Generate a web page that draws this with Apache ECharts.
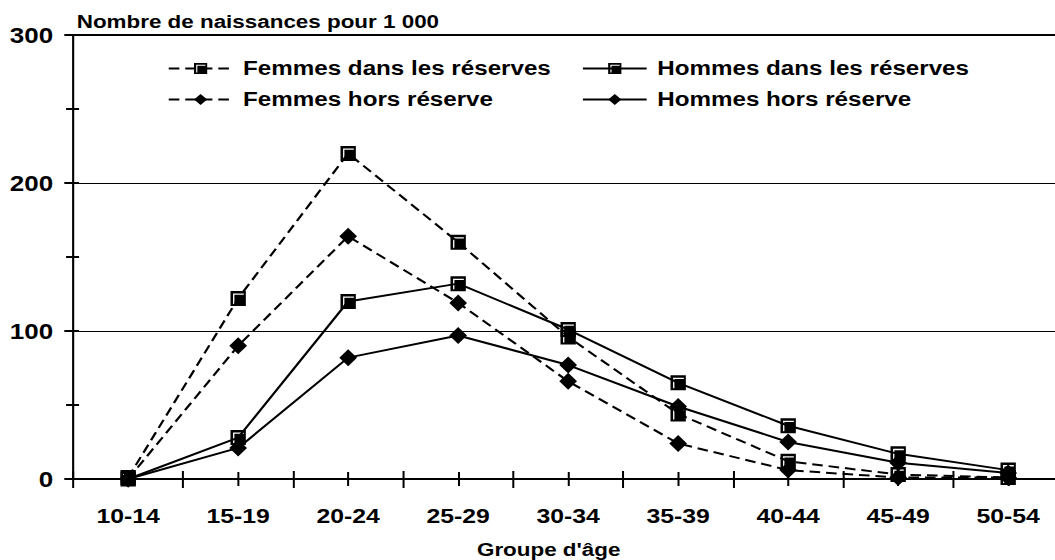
<!DOCTYPE html>
<html>
<head>
<meta charset="utf-8">
<script src="https://cdn.jsdelivr.net/npm/echarts@6/dist/echarts.min.js"></script>
<style>
  html, body { margin: 0; padding: 0; background: #fff; overflow: hidden; }
  /* le graphique d'origine est étiré horizontalement (~1.18) */
  #chart {
    width: 894px;
    height: 560px;
    transform: scaleX(1.18);
    transform-origin: left top;
  }
</style>
</head>
<body>
<div id="chart"></div>
<script>
// Données (naissances pour 1 000)
const ageGroups = ['10-14', '15-19', '20-24', '25-29', '30-34', '35-39', '40-44', '45-49', '50-54']
const femmesReserves = [1, 122, 220, 160, 96, 44, 12, 3, 1]
const hommesReserves = [0, 28, 120, 132, 101, 65, 36, 17, 6]
const femmesHors = [0, 90, 164, 119, 66, 24, 6, 1, 1]
const hommesHors = [0, 21, 82, 97, 77, 49, 25, 11, 4]
const yMax = 300
const yStep = 100

const fontFamily = '"Liberation Sans", Arial, sans-serif'
const black = '#000'

// carré noir avec un liseré blanc en haut et à gauche
const squareSymbol = 'path://M0 0H15V15H0Z M2.5 2.5V13H3.8V3.8H13V2.5Z'

const makeSeries = (name, data, symbol, size, dashed) => ({
  name,
  type: 'line',
  data,
  symbol,
  symbolSize: size,
  lineStyle: { color: black, width: 2, type: dashed ? [9, 5] : 'solid' },
  itemStyle: { color: black },
  emphasis: { disabled: true }
})

const legendBase = {
  padding: 0,
  itemWidth: 54,
  itemHeight: 14,
  selectedMode: false,
  textStyle: {
    color: black,
    fontSize: 20.5,
    fontWeight: 'bold',
    fontFamily,
    padding: [0, 0, 0, 4]
  }
}

const boldText = (size) => ({ color: black, fontSize: size, fontWeight: 'bold', fontFamily })

const chart = echarts.init(document.getElementById('chart'), null, { renderer: 'svg' })

const option = {
  animation: false,
  title: {
    text: 'Nombre de naissances pour 1 000',
    left: 65,
    top: 12,
    padding: 0,
    textStyle: boldText(19)
  },
  graphic: [
    {
      type: 'text',
      x: 465,
      y: 549,
      style: {
        text: "Groupe d'âge",
        textAlign: 'center',
        textVerticalAlign: 'middle',
        font: 'bold 19px ' + fontFamily,
        fill: black
      }
    }
  ],
  legend: [
    { ...legendBase, data: ['Femmes dans les réserves'], left: 142, top: 58 },
    { ...legendBase, data: ['Hommes dans les réserves'], left: 493, top: 58 },
    { ...legendBase, data: ['Femmes hors réserve'], left: 142, top: 89 },
    { ...legendBase, data: ['Hommes hors réserve'], left: 493, top: 89 }
  ],
  grid: {
    left: 62,
    right: -7,
    top: 35,
    bottom: 81,
    containLabel: false,
    outerBoundsMode: 'none'
  },
  xAxis: [
    {
      type: 'category',
      data: ageGroups,
      axisLine: { lineStyle: { color: black, width: 2 } },
      axisTick: { show: false },
      axisLabel: { ...boldText(21), interval: 0, margin: 26 }
    },
    {
      // graduations entre les groupes, de part et d'autre de l'axe
      type: 'category',
      data: ageGroups,
      position: 'bottom',
      offset: -8,
      axisLine: { show: false, onZero: false },
      axisTick: { show: true, interval: 0, length: 17, lineStyle: { color: black, width: 1.7 } },
      axisLabel: { show: false }
    },
    {
      // graduations au centre des groupes
      type: 'category',
      data: ageGroups,
      position: 'bottom',
      offset: -7,
      axisLine: { show: false, onZero: false },
      axisTick: { show: true, interval: 0, alignWithLabel: true, length: 14, lineStyle: { color: black, width: 1.7 } },
      axisLabel: { show: false }
    },
    {
      // bordure du haut
      type: 'category',
      data: ageGroups,
      position: 'top',
      axisLine: { show: true, onZero: false, lineStyle: { color: black, width: 2 } },
      axisTick: { show: false },
      axisLabel: { show: false }
    }
  ],
  yAxis: [
    {
      type: 'value',
      min: 0,
      max: yMax,
      interval: yStep,
      axisLine: { show: true, lineStyle: { color: black, width: 1.8 } },
      axisTick: { show: false },
      axisLabel: { ...boldText(22), margin: 17, padding: [5, 0, 0, 0] },
      splitLine: { show: true, lineStyle: { color: black, width: 1 } }
    },
    {
      type: 'value',
      min: 0,
      max: yMax,
      interval: yStep,
      position: 'left',
      offset: -5,
      axisLine: { show: false, onZero: false },
      axisTick: { show: true, length: 12.5, lineStyle: { color: black, width: 2 } },
      minorTick: { show: true, splitNumber: 2, length: 11, lineStyle: { color: black, width: 2 } },
      axisLabel: { show: false },
      splitLine: { show: false }
    }
  ],
  series: [
    makeSeries('Femmes dans les réserves', femmesReserves, squareSymbol, [13, 15], true),
    makeSeries('Hommes dans les réserves', hommesReserves, squareSymbol, [13, 15], false),
    makeSeries('Femmes hors réserve', femmesHors, 'diamond', [15, 17], true),
    makeSeries('Hommes hors réserve', hommesHors, 'diamond', [15, 17], false)
  ]
}

chart.setOption(option)
</script>
</body>
</html>
